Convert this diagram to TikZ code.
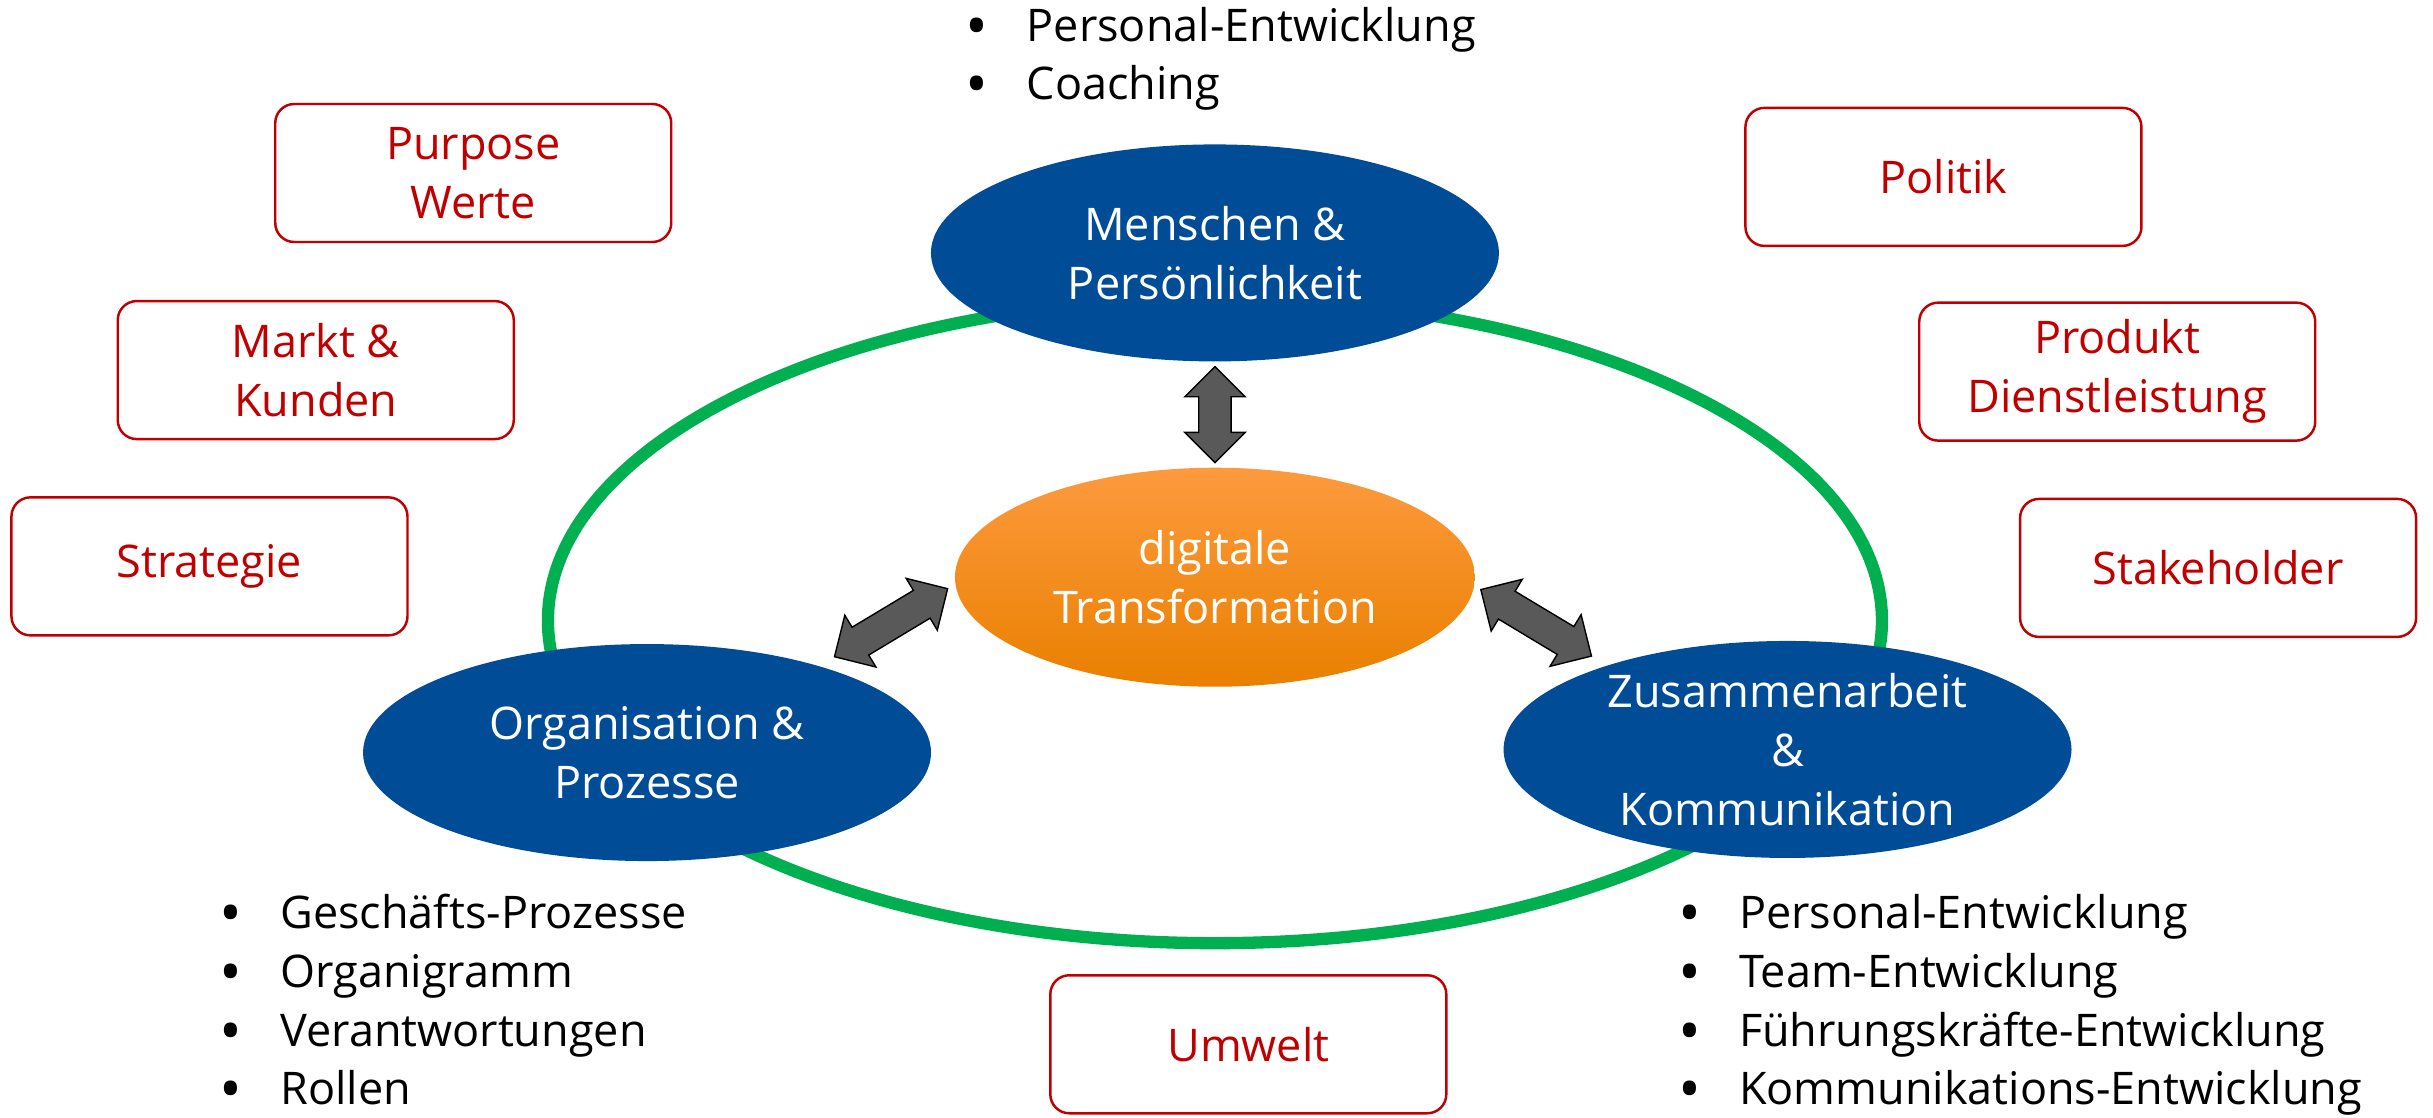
\documentclass[tikz,border=0pt]{standalone}
\usepackage{fontspec}
\setmainfont{Open Sans}
\usepackage{tikz}
\usetikzlibrary{positioning,shapes,calc}
\definecolor{blau}{RGB}{0,76,151}
\definecolor{rot}{RGB}{192,0,0}
\definecolor{gruen}{RGB}{0,176,80}
\definecolor{grau}{RGB}{89,89,89}
\definecolor{orangeHell}{RGB}{253,154,62}
\definecolor{orangeMitte}{RGB}{251,140,0}
\definecolor{orangeDunkel}{RGB}{233,128,0}
\tikzstyle{ring}=[ellipse, draw=gruen, line width=3.5pt, minimum width=133.4mm, minimum height=64.5mm]
\tikzstyle{thema}=[ellipse, fill=blau, text=white, minimum width=56.8mm, minimum height=21.7mm, align=center, inner sep=0pt]
\tikzstyle{kern}=[ellipse, top color=orangeHell, middle color=orangeMitte, bottom color=orangeDunkel, text=white, minimum width=52mm, minimum height=21.9mm, align=center, inner sep=0pt]
\tikzstyle{feld}=[draw=rot, rounded corners=1.9mm, line width=0.7pt, text=rot, minimum width=39.6mm, minimum height=13.8mm, align=center]
\tikzstyle{liste}=[align=left, anchor=north west, inner sep=0pt]
\tikzstyle{pfeil}=[double arrow, fill=grau, draw=black, line width=0.4pt, inner sep=1.55mm, minimum width=5.9mm, double arrow head extend=1.4mm]
\newcommand{\pkt}{\makebox[6.1mm][l]{\raisebox{-0.25ex}{\scalebox{1.35}{\textbullet}}}}

\begin{document}
\begin{tikzpicture}[x=0.15517mm, y=-0.15517mm, font=\fontsize{12.8}{16.7}\selectfont]
	\useasboundingbox (0,0) rectangle (1568,720.5);
	\node[ring] (ring) at (783,400) {};
	\node[thema] (mensch) at (783,163) {Menschen \&\\Persönlichkeit};
	\node[thema] (orga) at (417,485) {Organisation \&\\Prozesse};
	\node[thema] (zusammen) at (1152,483) {Zusammenarbeit\\\&\\Kommunikation};
	\node[kern] (digital) at (783,372) {digitale\\Transformation};
	\node[pfeil, rotate=90, minimum height=9.6mm] (pfeilMensch) at ($(mensch.south)!0.5!(digital.north)$) {};
	\node[pfeil, rotate=31, minimum height=13.2mm] (pfeilOrga) at ($(orga.25)!0.5!(digital.180)$) {};
	\node[pfeil, rotate=-31, minimum height=12.9mm] (pfeilZusammen) at ($(zusammen.157)!0.5!(digital.0)$) {};
	\node[feld] (purpose) at (305,111.5) {Purpose\\Werte};
	\node[feld] (markt) at (203.5,238.5) {Markt \&\\Kunden};
	\node[feld] (strategie) at (135,365) {Strategie};
	\node[feld] (politik) at (1252.5,114) {Politik};
	\node[feld] (produkt) at (1364.5,239.5) {Produkt\\Dienstleistung};
	\node[feld] (stakeholder) at (1429.5,366) {Stakeholder};
	\node[feld] (umwelt) at (804.5,673) {Umwelt};
	\node[liste] (listeMensch) at (622,4) {\pkt Personal-Entwicklung\\\pkt Coaching};
	\node[liste] (listeOrga) at (141,576) {\pkt Geschäfts-Prozesse\\\pkt Organigramm\\\pkt Verantwortungen\\\pkt Rollen};
	\node[liste] (listeZusammen) at (1081,576) {\pkt Personal-Entwicklung\\\pkt Team-Entwicklung\\\pkt Führungskräfte-Entwicklung\\\pkt Kommunikations-Entwicklung};
\end{tikzpicture}
\end{document}
